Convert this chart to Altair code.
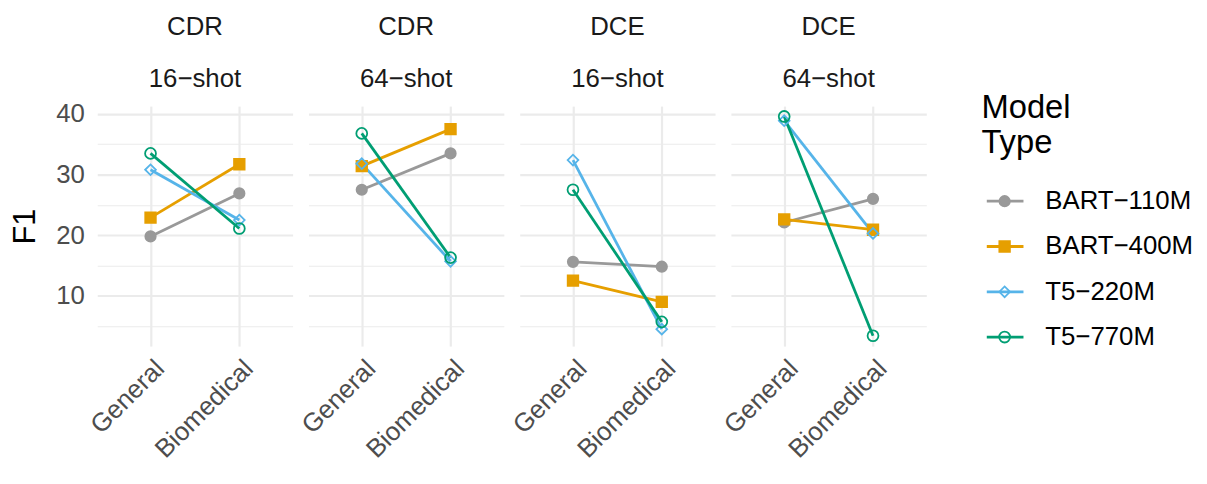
import altair as alt
import pandas as pd

models = ["BART−110M", "BART−400M", "T5−220M", "T5−770M"]
panels = ["CDR|16−shot", "CDR|64−shot", "DCE|16−shot", "DCE|64−shot"]
domains = ["General", "Biomedical"]

bart110_general = [19.8, 27.5, 15.6, 22.1]
bart110_bio = [26.9, 33.5, 14.8, 26.0]
bart400_general = [22.9, 31.4, 12.5, 22.6]
bart400_bio = [31.7, 37.5, 9.0, 20.9]
t5_220_general = [30.8, 31.8, 32.4, 38.9]
t5_220_bio = [22.5, 15.7, 4.5, 20.3]
t5_770_general = [33.5, 36.8, 27.5, 39.6]
t5_770_bio = [21.1, 16.3, 5.7, 3.4]

series = {
    "BART−110M": (bart110_general, bart110_bio),
    "BART−400M": (bart400_general, bart400_bio),
    "T5−220M": (t5_220_general, t5_220_bio),
    "T5−770M": (t5_770_general, t5_770_bio),
}

rows = []
for m in models:
    g, b = series[m]
    for i, p in enumerate(panels):
        rows.append({"panel": p, "model": m, "domain": "General", "f1": g[i]})
        rows.append({"panel": p, "model": m, "domain": "Biomedical", "f1": b[i]})
df = pd.DataFrame(rows)

colors = ["#999999", "#E69F00", "#56B4E9", "#009E73"]
fills = ["#999999", "#E69F00", "transparent", "transparent"]
shapes = ["circle", "square", "diamond", "circle"]
sizes = [110, 120, 170, 65]

FONT = "Liberation Sans"

color_scale = alt.Scale(domain=models, range=colors)
x_enc = alt.X("domain:N", sort=domains, title=None,
              scale=alt.Scale(padding=0.6),
              axis=alt.Axis(labelAngle=315, labelAlign="right", labelBaseline="top",
                            labelFontSize=26, labelColor="#4D4D4D", ticks=False,
                            domain=False, labelPadding=9, grid=True,
                            gridColor="#EBEBEB", gridWidth=2.2, labelFont=FONT))
y_enc = alt.Y("f1:Q", title="F1",
              scale=alt.Scale(domain=[1.7, 41.3], nice=False, zero=False),
              axis=alt.Axis(values=[5, 10, 15, 20, 25, 30, 35, 40],
                            labelExpr="datum.value % 10 == 0 ? datum.label : ''",
                            gridWidth={"condition": {"test": "datum.value % 10 == 0", "value": 2.2}, "value": 1.1},
                            gridColor="#EBEBEB", ticks=False, domain=False,
                            labelFontSize=26, labelColor="#4D4D4D", labelPadding=13,
                            titleFontSize=31, titleFontWeight="normal", titleColor="#000000",
                            titlePadding=14, labelFont=FONT, titleFont=FONT))

lines = alt.Chart().mark_line(strokeWidth=2.8).encode(
    x=x_enc, y=y_enc,
    color=alt.Color("model:N", scale=color_scale, legend=None),
    detail="model:N",
)
points = alt.Chart().mark_point(filled=False, strokeWidth=1.8, opacity=1).encode(
    x=x_enc, y=y_enc,
    color=alt.Color("model:N", scale=color_scale, legend=None),
    fill=alt.Fill("model:N", scale=alt.Scale(domain=models, range=fills), legend=None),
    shape=alt.Shape("model:N", scale=alt.Scale(domain=models, range=shapes), legend=None),
    size=alt.Size("model:N", scale=alt.Scale(domain=models, range=sizes), legend=None),
)

facet = alt.layer(lines, points, data=df).properties(width=197, height=242).facet(
    column=alt.Column("panel:N", sort=panels,
                      header=alt.Header(title=None,
                                        labelExpr="split(datum.value, '|')",
                                        labelFontSize=26, labelColor="#1A1A1A",
                                        labelFont=FONT, labelLineHeight=53,
                                        labelPadding=14))
).properties(spacing=16)

leg_df = pd.DataFrame({"model": models})
leg_y = alt.Y("model:N", sort=models, axis=None,
              scale=alt.Scale(paddingOuter=1, paddingInner=0, align=0.8))
leg_rule = alt.Chart(leg_df).mark_rule(strokeWidth=2.8).encode(
    x=alt.value(0), x2=alt.value(37), y=leg_y,
    color=alt.Color("model:N", scale=color_scale, legend=None))
leg_pt = alt.Chart(leg_df).mark_point(filled=False, strokeWidth=1.8, opacity=1).encode(
    x=alt.value(18), y=leg_y,
    color=alt.Color("model:N", scale=color_scale, legend=None),
    fill=alt.Fill("model:N", scale=alt.Scale(domain=models, range=fills), legend=None),
    shape=alt.Shape("model:N", scale=alt.Scale(domain=models, range=shapes), legend=None),
    size=alt.Size("model:N", scale=alt.Scale(domain=models, range=sizes), legend=None))
leg_txt = alt.Chart(leg_df).mark_text(align="left", baseline="middle", fontSize=26,
                                      font=FONT, color="#000000").encode(
    x=alt.value(59), y=leg_y, text="model:N")
legend = alt.layer(leg_rule, leg_pt, leg_txt).properties(
    width=200, height=274,
    title=alt.Title(["Model", "Type"], fontSize=33, fontWeight="normal", font=FONT,
                    anchor="start", lineHeight=35, color="#000000", offset=0, dy=54,
                    dx=-4))

chart = alt.hconcat(facet, legend, spacing=55).configure(
    background="white", padding={"top": 4, "left": 2, "right": 5, "bottom": 5}
).configure_view(stroke=None)

chart.save("out.html", embed_options={"renderer": "svg", "actions": False})
